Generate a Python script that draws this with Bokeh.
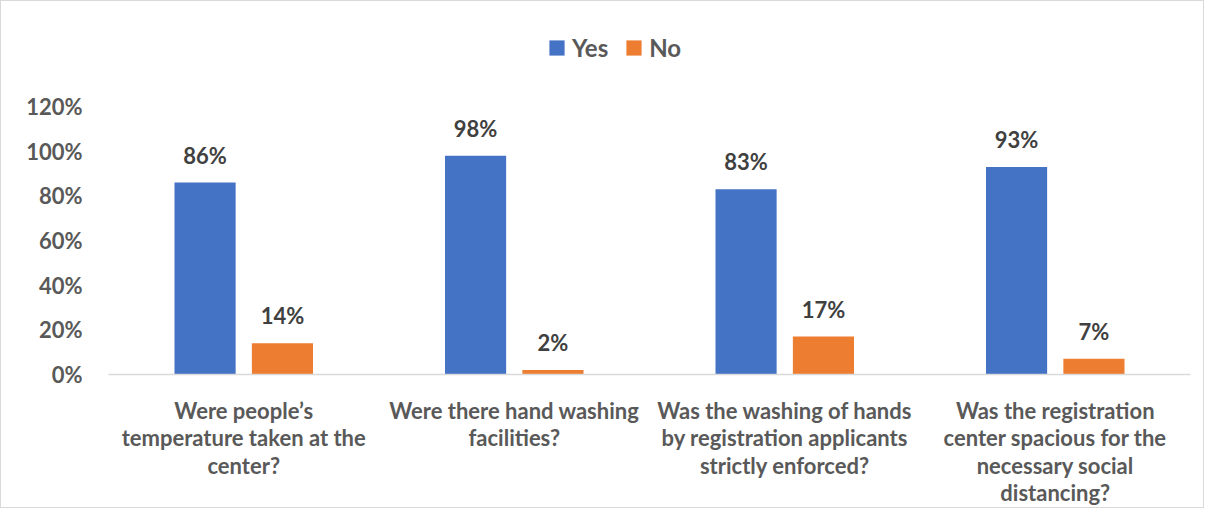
from bokeh.plotting import figure
from bokeh.models import ColumnDataSource, FactorRange, Legend, LegendItem, FixedTicker, Range1d
from bokeh.transform import dodge
from bokeh.embed import file_html
from bokeh.resources import INLINE

categories = [
    "Were people\u2019s\ntemperature taken at the\ncenter?",
    "Were there hand washing\nfacilities?",
    "Was the washing of hands\nby registration applicants\nstrictly enforced?",
    "Was the registration\ncenter spacious for the\nnecessary social\ndistancing?",
]
yes_values = [86, 98, 83, 93]
no_values = [14, 2, 17, 7]
series_names = ["Yes", "No"]
y_ticks = [0, 20, 40, 60, 80, 100, 120]
y_tick_labels = ["0%", "20%", "40%", "60%", "80%", "100%", "120%"]

FONT = "Lato"
TEXT_COLOR = "#595959"
BLUE = "#4472C4"
ORANGE = "#ED7D31"

source = ColumnDataSource(dict(
    cat=categories,
    yes=yes_values,
    no=no_values,
    yes_lbl=[f"{v}%" for v in yes_values],
    no_lbl=[f"{v}%" for v in no_values],
))

# the frame reaches the top of the canvas so that the legend (inside it) stays visible;
# headroom above the 120% axis maximum holds the legend
p = figure(
    x_range=FactorRange(*categories, range_padding=0),
    y_range=Range1d(0, 167.1),
    width=1204, height=508,
    output_backend="svg", toolbar_location=None,
    min_border_left=107, min_border_right=15,
    min_border_top=0, min_border_bottom=130,
)
p.styles = {"border": "1px solid #d9d9d9", "box-sizing": "border-box"}

r_yes = p.vbar(x=dodge("cat", -0.143, range=p.x_range), top="yes", width=0.226,
               source=source, fill_color=BLUE, line_color=None)
r_no = p.vbar(x=dodge("cat", 0.143, range=p.x_range), top="no", width=0.226,
              source=source, fill_color=ORANGE, line_color=None)

p.text(x=dodge("cat", -0.143, range=p.x_range), y="yes", text="yes_lbl", source=source,
       text_align="center", text_baseline="bottom", y_offset=-14,
       text_font={"value": FONT}, text_font_style="bold", text_font_size="22px",
       text_color="#404040")
p.text(x=dodge("cat", 0.143, range=p.x_range), y="no", text="no_lbl", source=source,
       text_align="center", text_baseline="bottom", y_offset=-14,
       text_font={"value": FONT}, text_font_style="bold", text_font_size="22px",
       text_color="#404040")

legend = Legend(
    items=[LegendItem(label=series_names[0], renderers=[r_yes]),
           LegendItem(label=series_names[1], renderers=[r_no])],
    orientation="horizontal", location=(439, 312),
    glyph_width=19, glyph_height=19, label_standoff=6, spacing=16,
    padding=0, margin=0, border_line_color=None, background_fill_alpha=0,
    label_text_font=FONT, label_text_font_style="bold", label_text_font_size="24px",
    label_text_color=TEXT_COLOR,
)
p.add_layout(legend, "center")

p.xgrid.grid_line_color = None
p.ygrid.grid_line_color = None
p.outline_line_color = None

p.xaxis.axis_line_color = "#d9d9d9"
p.xaxis.axis_line_width = 1.5
p.xaxis.major_tick_line_color = None
p.xaxis.minor_tick_line_color = None
p.xaxis.major_label_standoff = 16
p.xaxis.major_label_text_font = FONT
p.xaxis.major_label_text_font_style = "bold"
p.xaxis.major_label_text_font_size = "22px"
p.xaxis.major_label_text_color = TEXT_COLOR
p.xaxis.major_label_text_line_height = 1.02

p.yaxis.ticker = FixedTicker(ticks=y_ticks)
p.yaxis.major_label_overrides = dict(zip(y_ticks, y_tick_labels))
p.yaxis.axis_line_color = None
p.yaxis.major_tick_line_color = None
p.yaxis.minor_tick_line_color = None
p.yaxis.major_label_standoff = 20
p.yaxis.major_label_text_font = FONT
p.yaxis.major_label_text_font_style = "bold"
p.yaxis.major_label_text_font_size = "22px"
p.yaxis.major_label_text_color = TEXT_COLOR

open("out.html", "w").write(file_html(p, INLINE))
